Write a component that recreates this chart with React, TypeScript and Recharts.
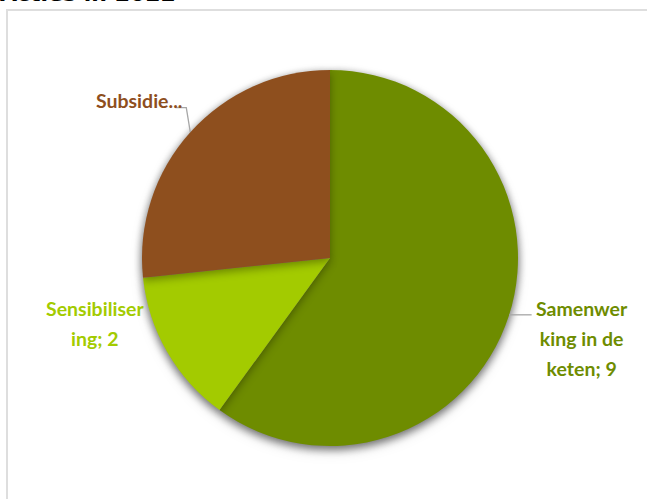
import React from "react";
import { PieChart, Pie, Cell } from "recharts";

const categories = ["Samenwerking in de keten", "Sensibilisering", "Subsidie"];
const values = [9, 2, 4];
const labelLines = [
  ["Samenwer", "king in de", "keten; 9"],
  ["Sensibiliser", "ing; 2"],
  ["Subsidie..."],
];
const colors = ["#6E8C00", "#A3CB00", "#8E4F1E"];

// label placement: extra radius beyond the pie and angle tweak (deg) per slice
const labelRadius = [76, 56, 60];
const labelAngleShift = [0.4, -14.5, 2.3];
const RADIAN = Math.PI / 180;

const data = categories.map((name, i) => ({ name, value: values[i] }));

const renderLabel = (props: any) => {
  const { cx, cy, midAngle, outerRadius, index } = props;
  const a = (midAngle + labelAngleShift[index]) * RADIAN;
  const r = outerRadius + labelRadius[index];
  const x = cx + r * Math.cos(a);
  const y = cy - r * Math.sin(a);
  const lines = labelLines[index];
  const lh = 30;
  const y0 = y - ((lines.length - 1) * lh) / 2;
  let leader: React.ReactNode = null;
  if (index === 0) {
    const ey = y0 + 7;
    const ex = cx + Math.sqrt(outerRadius * outerRadius - (ey - cy) * (ey - cy));
    leader = (
      <polyline points={`${ex},${ey} ${x - 50},${ey}`} stroke="#a6a6a6" strokeWidth={1.3} fill="none" />
    );
  } else if (index === 2) {
    const ea = midAngle * RADIAN;
    const ex = cx + outerRadius * Math.cos(ea);
    const ey = cy - outerRadius * Math.sin(ea);
    leader = (
      <polyline
        points={`${ex},${ey} ${ex - 4},${y + 8} ${ex - 15},${y + 8}`}
        stroke="#a6a6a6"
        strokeWidth={1.3}
        fill="none"
      />
    );
  }
  return (
    <g>
      {leader}
      <text
        x={x}
        y={y0}
        textAnchor="middle"
        dominantBaseline="central"
        fill={colors[index]}
        style={{ fontFamily: "Lato, sans-serif", fontSize: 19.5, fontWeight: "bold" }}
      >
        {lines.map((l, i) => (
          <tspan key={i} x={x} dy={i === 0 ? 0 : lh}>
            {l}
          </tspan>
        ))}
      </text>
    </g>
  );
};

export default function App() {
  return (
    <div style={{ position: "absolute", left: 0, top: 0, width: 647, height: 499, overflow: "hidden", background: "#fff" }}>
      <style>{`.pie-shadow { filter: drop-shadow(0px 3px 4px rgba(0,0,0,0.35)); }`}</style>
      <div
        style={{
          position: "absolute",
          left: 0,
          top: -17,
          fontFamily: "DejaVu Sans, Verdana, sans-serif",
          fontWeight: "bold",
          fontSize: 22,
          lineHeight: "22px",
          color: "#000",
          whiteSpace: "nowrap",
        }}
      >
        Acties in 2022
      </div>
      <div
        style={{
          position: "absolute",
          left: 6,
          top: 9,
          width: 660,
          height: 520,
          border: "2px solid #dedede",
          boxSizing: "border-box",
        }}
      />
      <div style={{ position: "absolute", left: 0, top: 0 }}>
        <PieChart width={647} height={499} margin={{ top: 0, right: 0, bottom: 0, left: 0 }}>
          <Pie
            className="pie-shadow"
            data={data}
            dataKey="value"
            nameKey="name"
            cx={330}
            cy={258}
            outerRadius={188}
            startAngle={90}
            endAngle={-270}
            stroke="none"
            label={false}
            labelLine={false}
            isAnimationActive={false}
          >
            {data.map((d, i) => (
              <Cell key={d.name} fill={colors[i]} />
            ))}
          </Pie>
          <Pie
            data={data}
            dataKey="value"
            nameKey="name"
            cx={330}
            cy={258}
            outerRadius={188}
            startAngle={90}
            endAngle={-270}
            stroke="none"
            fillOpacity={0}
            label={renderLabel}
            labelLine={false}
            isAnimationActive={false}
          >
            {data.map((d) => (
              <Cell key={d.name} fill="transparent" />
            ))}
          </Pie>
        </PieChart>
      </div>
    </div>
  );
}
